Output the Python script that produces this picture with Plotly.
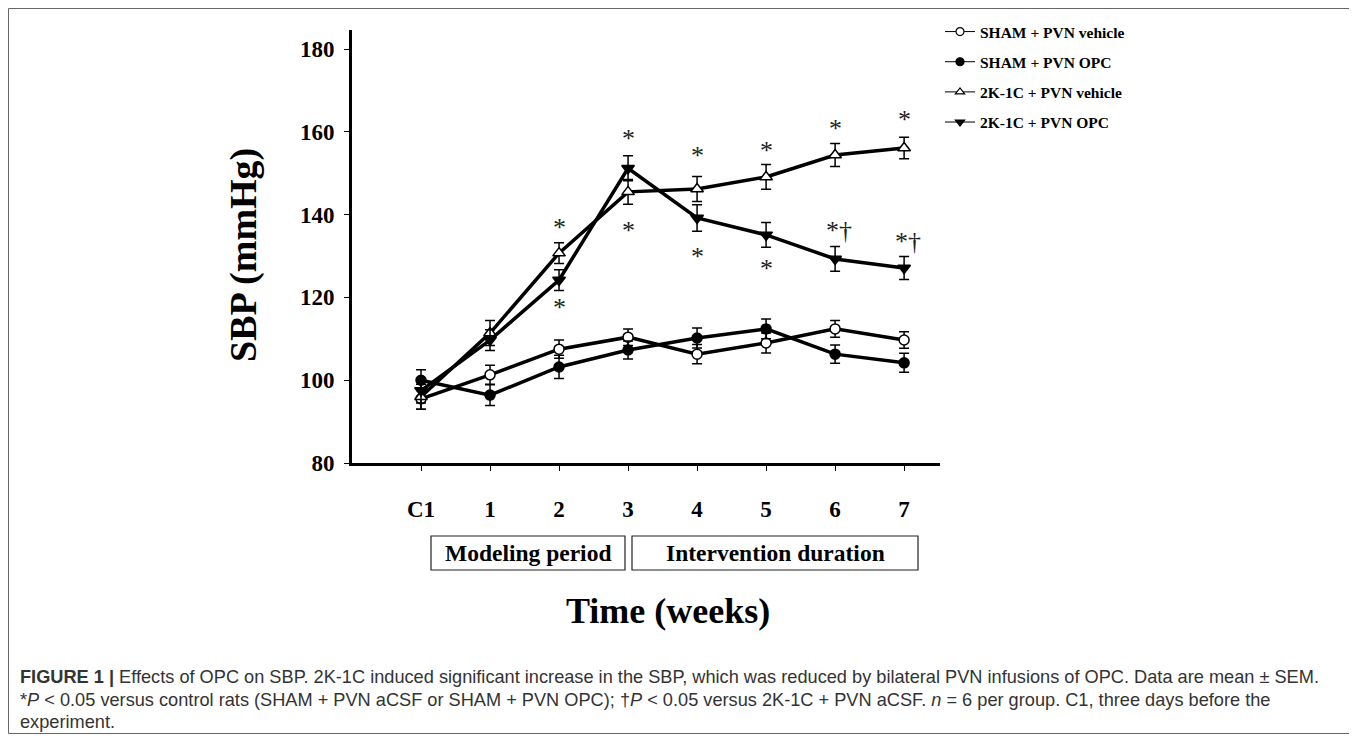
import plotly.graph_objects as go

# ---------------- data ----------------
weeks = ["C1", "1", "2", "3", "4", "5", "6", "7"]

sham_vehicle = [95.5, 101.3, 107.5, 110.4, 106.3, 109.0, 112.4, 109.7]
sham_vehicle_err = [2.5, 2.3, 2.2, 2.0, 2.3, 2.4, 2.0, 2.0]

sham_opc = [100.0, 96.4, 103.2, 107.3, 110.2, 112.4, 106.3, 104.2]
sham_opc_err = [2.5, 2.5, 2.8, 2.2, 2.4, 2.4, 2.2, 2.3]

k2c_vehicle = [96.0, 111.4, 130.7, 145.5, 146.2, 149.1, 154.4, 156.1]
k2c_vehicle_err = [3.0, 3.0, 2.5, 3.0, 3.0, 3.0, 2.8, 2.6]

k2c_opc = [97.5, 109.7, 124.2, 151.2, 139.2, 135.1, 129.3, 127.1]
k2c_opc_err = [3.0, 2.5, 2.5, 3.0, 3.2, 3.0, 3.0, 2.8]

series_names = ["SHAM + PVN vehicle", "SHAM + PVN OPC",
                "2K-1C + PVN vehicle", "2K-1C + PVN OPC"]

# significance marks (week, y value, text)
sig_weeks = ["2", "2", "3", "3", "4", "4", "5", "5", "6", "6", "7", "7"]
sig_values = [137.5, 118.4, 159.2, 137.0, 154.9, 130.7, 156.3, 127.6,
              161.6, 136.8, 163.6, 134.3]
sig_texts = ["*", "*", "*", "*", "*", "*", "*", "*", "*", "*†", "*", "*†"]

y_ticks = [80, 100, 120, 140, 160, 180]

# ---------------- geometry helpers (page pixel -> paper) ----------------
W, H = 1357, 740
OFF = 8                      # default page body margin
L, R, T, B = 352, 940, 30, 463   # plot area in page pixels


def px_x(p):
    return (p - L) / (R - L)


def px_y(p):
    return (B - p) / (B - T)


SERIF = "Liberation Serif, Times New Roman, serif"
SANS = "Liberation Sans, Arial, sans-serif"

fig = go.Figure()

styles = [
    dict(symbol="circle", fill="white"),
    dict(symbol="circle", fill="black"),
    dict(symbol="triangle-up", fill="white"),
    dict(symbol="triangle-down", fill="black"),
]
values = [sham_vehicle, sham_opc, k2c_vehicle, k2c_opc]
errors = [sham_vehicle_err, sham_opc_err, k2c_vehicle_err, k2c_opc_err]

for name, vals, errs, st in zip(series_names, values, errors, styles):
    size = 10 if st["symbol"] == "circle" else 11
    fig.add_trace(go.Scatter(
        x=weeks, y=vals, mode="lines+markers", name=name, showlegend=False,
        line=dict(color="black", width=3.5),
        marker=dict(symbol=st["symbol"], size=size, color=st["fill"],
                    line=dict(width=1.5, color="black")),
        error_y=dict(type="data", array=errs, visible=True,
                     color="black", thickness=1.5, width=5),
    ))

# legend-only traces (thin lines like the original legend)
for i, (name, st) in enumerate(zip(series_names, styles)):
    fig.add_trace(go.Scatter(
        x=[None], y=[None], mode="lines+markers", name=name,
        legendgroup=f"g{i}",
        line=dict(color="black", width=1),
        marker=dict(symbol=st["symbol"], size=8, color=st["fill"],
                    line=dict(width=1.2, color="black")),
    ))

# significance annotations
for wk, v, t in zip(sig_weeks, sig_values, sig_texts):
    fig.add_annotation(x=wk, y=v, xref="x", yref="y", text=t, showarrow=False,
                       xanchor="center", yanchor="middle",
                       font=dict(family=SERIF, size=26, color="#222"),
                       yshift=-3, xshift=(4 if "†" in t else 0))

anns = []
# axis titles
anns.append(dict(x=px_x(243), y=px_y(255), text="SBP (mmHg)", textangle=-90,
                 font=dict(family=SERIF, size=38, color="black", weight="bold")))
anns.append(dict(x=px_x(668), y=px_y(611), text="Time (weeks)",
                 font=dict(family=SERIF, size=36, color="black", weight="bold")))
# period boxes labels
anns.append(dict(x=px_x(528), y=px_y(553), text="Modeling period",
                 font=dict(family=SERIF, size=23.5, color="black", weight="bold")))
anns.append(dict(x=px_x(775), y=px_y(553), text="Intervention duration",
                 font=dict(family=SERIF, size=23.5, color="black", weight="bold")))
for a in anns:
    fig.add_annotation(xref="paper", yref="paper", xanchor="center", yanchor="middle",
                       showarrow=False, **a)

caption_lines = [
    "<b>FIGURE 1 |</b> Effects of OPC on SBP. 2K-1C induced significant increase in the SBP, "
    "which was reduced by bilateral PVN infusions of OPC. Data are mean ± SEM.",
    "*<i>P</i> &lt; 0.05 versus control rats (SHAM + PVN aCSF or SHAM + PVN OPC); †<i>P</i> &lt; 0.05 "
    "versus 2K-1C + PVN aCSF. <i>n</i> = 6 per group. C1, three days before the",
    "experiment.",
]
caption_y = [677, 700, 722]
for txt, yy in zip(caption_lines, caption_y):
    fig.add_annotation(x=px_x(18), y=px_y(yy), xref="paper", yref="paper",
                       xanchor="left", yanchor="middle", align="left",
                       text=txt, showarrow=False,
                       font=dict(family=SANS, size=18.2, color="#333"))

shapes = [
    dict(type="rect", xref="paper", yref="paper",
         x0=px_x(431), x1=px_x(625), y0=px_y(536), y1=px_y(570),
         line=dict(color="#222", width=1.2)),
    dict(type="rect", xref="paper", yref="paper",
         x0=px_x(632), x1=px_x(918), y0=px_y(536), y1=px_y(570),
         line=dict(color="#222", width=1.2)),
    dict(type="rect", xref="paper", yref="paper",
         x0=px_x(8.5), x1=px_x(1349.5), y0=px_y(8.5), y1=px_y(733.5),
         line=dict(color="#666", width=1)),
]

fig.update_layout(
    width=W, height=H,
    margin=dict(l=L - OFF, r=W - (R - OFF), t=T - OFF, b=H - (B - OFF), pad=0,
                autoexpand=False),
    plot_bgcolor="white", paper_bgcolor="white",
    shapes=shapes,
    showlegend=True,
    legend=dict(xref="container", yref="container",
                x=(940 - OFF) / W, y=1 - (15 - OFF) / H,
                xanchor="left", yanchor="top",
                font=dict(family=SERIF, size=15.5, color="black", weight="bold"),
                tracegroupgap=7, traceorder="grouped",
                bgcolor="rgba(0,0,0,0)", itemwidth=30),
    xaxis=dict(type="category", range=[-1.0, 7.52], showgrid=False, zeroline=False,
               showline=True, linecolor="black", linewidth=3,
               ticks="outside", ticklen=5, tickwidth=1, tickcolor="black",
               tickvals=weeks, ticktext=weeks, ticklabelstandoff=18,
               tickfont=dict(family=SERIF, size=23, color="black", weight="bold")),
    yaxis=dict(range=[80, 184.6], showgrid=False, zeroline=False,
               showline=True, linecolor="black", linewidth=3,
               ticks="outside", ticklen=5, tickwidth=1, tickcolor="black",
               tickvals=y_ticks, ticklabelstandoff=5,
               tickfont=dict(family=SERIF, size=23, color="black", weight="bold")),
)

fig.write_html("out.html")
